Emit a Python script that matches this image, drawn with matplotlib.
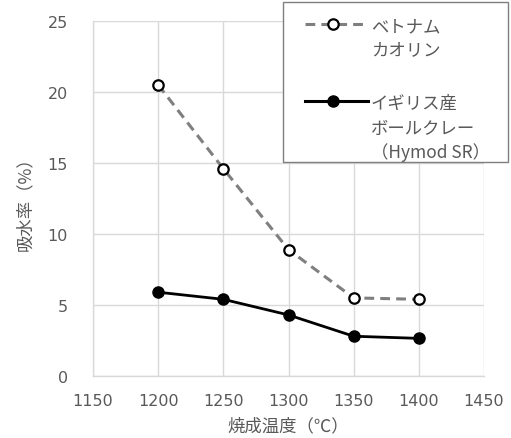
import matplotlib
matplotlib.use("Agg")
import matplotlib.pyplot as plt
from matplotlib.lines import Line2D
from matplotlib.patches import Rectangle

plt.rcParams['font.family'] = ['Noto Sans CJK JP', 'DejaVu Sans']

# Firing temperature (°C) and water absorption (%)
temperatures = [1200, 1250, 1300, 1350, 1400]
vietnam_kaolin = [20.5, 14.6, 8.9, 5.5, 5.4]
hymod_sr = [5.9, 5.4, 4.3, 2.8, 2.65]
series_labels = ["ベトナム\nカオリン", "イギリス産\nボールクレー\n（Hymod SR）"]
x_ticks = [1150, 1200, 1250, 1300, 1350, 1400, 1450]
y_ticks = [0, 5, 10, 15, 20, 25]

TEXT = '#595959'
GRID = '#d9d9d9'
W, H = 511, 439

fig = plt.figure(figsize=(W / 100, H / 100), dpi=100)
ax = fig.add_axes([93 / W, 1 - 377 / H, (484 - 93) / W, (377 - 22) / H])

ax.plot(temperatures, vietnam_kaolin, color='#7f7f7f', lw=2.2,
        dashes=(3.2, 2.0), marker='o', ms=7.5, mfc='white', mec='black',
        mew=1.6, zorder=3)
ax.plot(temperatures, hymod_sr, color='black', lw=2.0,
        marker='o', ms=8, mfc='black', mec='black', zorder=3)

ax.set_xlim(1150, 1450)
ax.set_ylim(0, 25)
ax.set_xticks(x_ticks)
ax.set_yticks(y_ticks)
ax.grid(True, color=GRID, lw=1.0)
ax.set_axisbelow(True)
for s in ['top', 'right']:
    ax.spines[s].set_visible(False)
for s in ['left', 'bottom']:
    ax.spines[s].set_color(GRID)
    ax.spines[s].set_linewidth(1.0)
ax.tick_params(length=0, colors=TEXT)
ax.tick_params(axis='x', pad=12)
ax.tick_params(axis='y', pad=18)
for lbl in ax.get_xticklabels() + ax.get_yticklabels():
    lbl.set_fontfamily('DejaVu Sans')
    lbl.set_fontsize(11.5)

ax.set_xlabel("焼成温度（℃）", fontsize=12.5, color=TEXT)
ax.set_ylabel("吸水率（%）", fontsize=12.5, color=TEXT)
ax.xaxis.set_label_coords(0.5, -(417 - 377) / 355)
ax.yaxis.set_label_coords(-(93 - 34) / 391, 0.5)


def fx(px):
    return px / W


def fy(py):
    return 1 - py / H


# Legend panel
fig.add_artist(Rectangle((fx(283), fy(163)), fx(508) - fx(283), fy(3) - fy(163),
                         transform=fig.transFigure, facecolor='white',
                         edgecolor='#7f7f7f', lw=1.0, zorder=5))
handles = [
    dict(lines_y=[25, 48], color='#7f7f7f', dashes=(3.2, 2.0), mfc='white',
         ms=7.5, mew=1.6),
    dict(lines_y=[102, 126.5, 151], color='black', dashes=None, mfc='black',
         ms=8, mew=1.0),
]
for h, label in zip(handles, series_labels):
    y0 = h['lines_y'][0]
    ln = Line2D([fx(305), fx(368)], [fy(y0)] * 2, transform=fig.transFigure,
                color=h['color'], lw=2.2, zorder=6)
    if h['dashes']:
        ln.set_dashes(h['dashes'])
    fig.add_artist(ln)
    fig.add_artist(Line2D([fx(333)], [fy(y0)], transform=fig.transFigure,
                          ls='none', marker='o', ms=h['ms'], mfc=h['mfc'],
                          mec='black', mew=h['mew'], zorder=7))
    for line_text, ly in zip(label.split("\n"), h['lines_y']):
        fig.text(fx(371), fy(ly), line_text, ha='left', va='center_baseline',
                 fontsize=12.5, color=TEXT, zorder=8)

fig.savefig("out.png", dpi=100)
